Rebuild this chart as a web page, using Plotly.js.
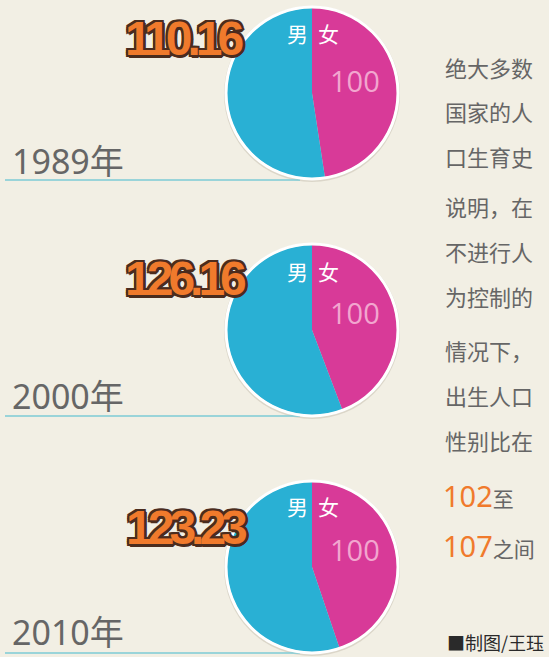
<!DOCTYPE html>
<html><head><meta charset="utf-8">
<script src="https://cdn.plot.ly/plotly-3.0.1.min.js"></script>
<style>html,body{margin:0;padding:0;background:#f2efe4;}#c{width:549px;height:657px;}</style>
</head><body><div id="c"></div>
<script>
const years = ['1989年', '2000年', '2010年'];
const maleRatio = [110.16, 126.16, 123.23];
const femaleBase = [100, 100, 100];
const sexLabels = ['女', '男'];
const noteLines = ['绝大多数', '国家的人', '口生育史', '说明，在', '不进行人', '为控制的', '情况下，', '出生人口', '性别比在'];
const normalRange = [102, 107];
const rangeWords = ['至', '之间'];
const credit = '■制图/王珏';

const W = 549, H = 657;
const px = x => x / W, py = y => 1 - y / H;
const centersY = [93, 330, 567];
const cx = 312, R = 85;
const numberPos = [[183, 38], [185, 279], [186, 527]];
const yearY = [161, 396, 632];
const lineY = [180, 416, 653];
const sexY = [33, 271, 506];
const hundredY = [80, 312, 549];

const data = [], shapes = [], annotations = [];
const outline = '#4b2c1e';
const sh = [];
for (const [dx, dy] of [[2,0],[-2,0],[0,2],[0,-2],[2,2],[-2,-2],[2,-2],[-2,2],[1,3],[3,1]]) sh.push(`${dx}px ${dy}px 0 ${outline}`);
const shadowStr = sh.join(', ');

years.forEach((yr, i) => {
  const cy = centersY[i];
  shapes.push({type: 'circle', xref: 'paper', yref: 'paper', layer: 'below',
    x0: px(cx - R - 3), x1: px(cx + R + 3), y0: py(cy + R + 4), y1: py(cy - R - 2),
    fillcolor: 'rgba(150,140,120,0.25)', line: {width: 0}});
  shapes.push({type: 'line', xref: 'paper', yref: 'paper', layer: 'below',
    x0: px(5), x1: px(300), y0: py(lineY[i]), y1: py(lineY[i]),
    line: {color: '#7ccbd6', width: 1.5}});
  data.push({
    type: 'pie', values: [femaleBase[i], maleRatio[i]], labels: sexLabels,
    sort: false, direction: 'clockwise', rotation: 0,
    marker: {colors: ['#d83a98', '#29b0d4'], line: {width: 0}},
    textinfo: 'none', hoverinfo: 'skip', showlegend: false,
    domain: {x: [px(cx - R), px(cx + R)], y: [py(cy + R), py(cy - R)]}
  });
  shapes.push({type: 'circle', xref: 'paper', yref: 'paper', layer: 'above',
    x0: px(cx - R - 1), x1: px(cx + R + 1), y0: py(cy + R + 1), y1: py(cy - R - 1),
    line: {color: '#ffffff', width: 3}});
  annotations.push({xref: 'paper', yref: 'paper', x: px(numberPos[i][0]), y: py(numberPos[i][1]),
    xanchor: 'center', yanchor: 'middle', showarrow: false,
    text: `<span style="letter-spacing:-5px">${maleRatio[i].toFixed(2)}</span>`,
    font: {family: 'Liberation Sans, Arial, sans-serif', size: 48, weight: 700, color: '#f07a2c', shadow: shadowStr}});
  annotations.push({xref: 'paper', yref: 'paper', x: px(10), y: py(yearY[i]),
    xanchor: 'left', yanchor: 'middle', showarrow: false, text: yr,
    font: {family: 'Noto Sans, Noto Sans CJK SC, sans-serif', size: 34, weight: 400, color: '#666666'}});
  annotations.push({xref: 'paper', yref: 'paper', x: px(297), y: py(sexY[i]),
    xanchor: 'center', yanchor: 'middle', showarrow: false, text: sexLabels[1],
    font: {family: 'Noto Sans CJK SC, sans-serif', size: 21, color: '#ffffff'}});
  annotations.push({xref: 'paper', yref: 'paper', x: px(328), y: py(sexY[i]),
    xanchor: 'center', yanchor: 'middle', showarrow: false, text: sexLabels[0],
    font: {family: 'Noto Sans CJK SC, sans-serif', size: 21, color: '#ffffff'}});
  annotations.push({xref: 'paper', yref: 'paper', x: px(355), y: py(hundredY[i]),
    xanchor: 'center', yanchor: 'middle', showarrow: false, text: String(femaleBase[i]),
    font: {family: 'Open Sans, sans-serif', size: 29, color: '#f2a6cf'}});
});

const noteY = [67, 111, 156, 206, 251, 296, 350, 395, 440];
noteLines.forEach((t, j) => {
  annotations.push({xref: 'paper', yref: 'paper', x: px(443), y: py(noteY[j]),
    xanchor: 'left', yanchor: 'middle', showarrow: false, text: t,
    font: {family: 'Noto Sans CJK SC, sans-serif', size: 22, color: '#666666'}});
});
const rangeY = [495, 545];
normalRange.forEach((v, j) => {
  annotations.push({xref: 'paper', yref: 'paper', x: px(441), y: py(rangeY[j]),
    xanchor: 'left', yanchor: 'middle', showarrow: false,
    text: `<span style="color:#f07a2c;font-size:29px">${v}</span><span style="font-size:21px">${rangeWords[j]}</span>`,
    font: {family: 'Noto Sans, Noto Sans CJK SC, sans-serif', size: 21, color: '#666666'}});
});
annotations.push({xref: 'paper', yref: 'paper', x: px(546), y: py(642),
  xanchor: 'right', yanchor: 'middle', showarrow: false, text: credit,
  font: {family: 'Noto Sans CJK SC, sans-serif', size: 18, color: '#2a2a2a'}});

Plotly.newPlot('c', data, {
  width: W, height: H, margin: {l: 0, r: 0, t: 0, b: 0},
  paper_bgcolor: '#f2efe4', plot_bgcolor: '#f2efe4',
  shapes, annotations
}, {displayModeBar: false, staticPlot: true});
</script></body></html>
